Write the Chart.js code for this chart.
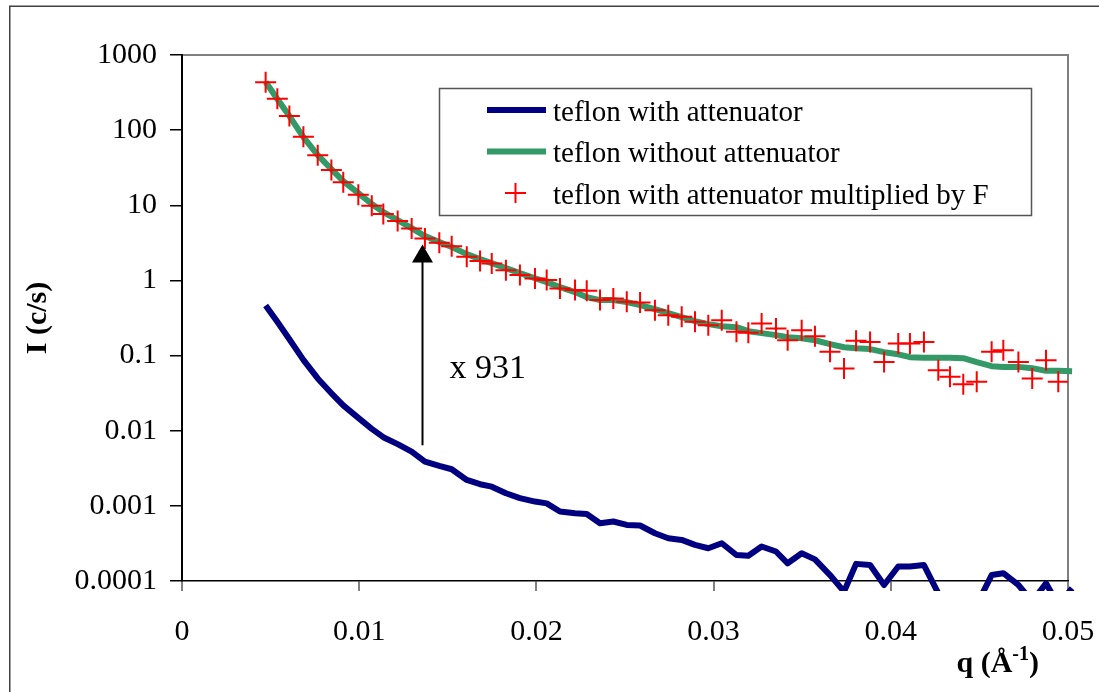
<!DOCTYPE html>
<html>
<head>
<meta charset="utf-8">
<title>Teflon with and without attenuator</title>
<script src="https://cdn.jsdelivr.net/npm/chart.js@4.4.1/dist/chart.umd.min.js"></script>
<style>
  html, body { margin: 0; padding: 0; background: #fff; }
  #chart { display: block; }
</style>
</head>
<body>
<canvas id="chart" width="1099" height="692"></canvas>
<script>
// --- Data ---
const qAtt = [
    0.00472, 0.00538, 0.00606, 0.00685, 0.00766, 0.00843, 0.00910, 0.00995, 0.01071, 0.01136,
    0.01217, 0.01296, 0.01371, 0.01452, 0.01522, 0.01607, 0.01682, 0.01748, 0.01828, 0.01907,
    0.01992, 0.02058, 0.02133, 0.02218, 0.02284, 0.02359, 0.02434, 0.02510, 0.02585, 0.02669,
    0.02744, 0.02820, 0.02895, 0.02970, 0.03046, 0.03129, 0.03196, 0.03271, 0.03352, 0.03418,
    0.03497, 0.03572, 0.03657, 0.03736, 0.03804, 0.03883, 0.03962, 0.04042, 0.04108, 0.04187,
    0.04268, 0.04334, 0.04409, 0.04485, 0.04569, 0.04635, 0.04720, 0.04798, 0.04876, 0.04945,
    0.05023
];
const withAttenuator = [
    0.465, 0.281, 0.165, 0.0878, 0.0496, 0.0316, 0.0217, 0.0148, 0.01058, 0.00820,
    0.00662, 0.00528, 0.00389, 0.00340, 0.00307, 0.00221, 0.00194, 0.00180, 0.00147, 0.00127,
    0.00114, 0.00108, 0.000840, 0.000798, 0.000781, 0.000588, 0.000619, 0.000557, 0.000548, 0.000432,
    0.000371, 0.000352, 0.000302, 0.000273, 0.000318, 0.000222, 0.000217, 0.000288, 0.000247, 0.000172,
    0.000234, 0.000194, 0.000120, 0.0000723, 0.000169, 0.000163, 0.0000885, 0.000156, 0.000156, 0.000163,
    0.0000686, 0.0000560, 0.0000447, 0.0000480, 0.000120, 0.000127, 0.0000885, 0.0000533, 0.0000932, 0.0000480,
    0.0000800
];
const multipliedByF = [
    433, 262, 154, 81.7, 46.2, 29.4, 20.2, 13.8, 9.85, 7.63,
    6.16, 4.92, 3.62, 3.17, 2.86, 2.06, 1.81, 1.68, 1.37, 1.18,
    1.06, 1.01, 0.782, 0.743, 0.727, 0.547, 0.576, 0.519, 0.510, 0.402,
    0.345, 0.328, 0.281, 0.254, 0.296, 0.207, 0.202, 0.268, 0.230, 0.160,
    0.218, 0.181, 0.112, 0.0673, 0.157, 0.152, 0.0824, 0.145, 0.145, 0.152,
    0.0639, 0.0521, 0.0416, 0.0447, 0.112, 0.118, 0.0824, 0.0496, 0.0868, 0.0447
];
const qNoAtt = [
    0.00472, 0.00538, 0.00606, 0.00685, 0.00766, 0.00843, 0.00910, 0.00995, 0.01071, 0.01136,
    0.01217, 0.01296, 0.01371, 0.01452, 0.01522, 0.01607, 0.01682, 0.01748, 0.01828, 0.01907,
    0.01992, 0.02058, 0.02133, 0.02218, 0.02284, 0.02359, 0.02434, 0.02510, 0.02585, 0.02669,
    0.02744, 0.02820, 0.02895, 0.02970, 0.03046, 0.03129, 0.03196, 0.03271, 0.03352, 0.03418,
    0.03497, 0.03572, 0.03657, 0.03736, 0.03804, 0.03883, 0.03962, 0.04042, 0.04108, 0.04187,
    0.04268, 0.04334, 0.04409, 0.04485, 0.04569, 0.04635, 0.04720, 0.04798, 0.04876, 0.04945,
    0.05023, 0.05070
];
const withoutAttenuator = [
    437, 259.5, 154, 80.9, 46.6, 30.3, 21.0, 14.5, 10.4, 8.12,
    6.35, 4.97, 3.89, 3.24, 2.78, 2.24, 1.92, 1.70, 1.46, 1.25,
    1.07, 0.949, 0.814, 0.699, 0.599, 0.547, 0.547, 0.514, 0.469, 0.415,
    0.367, 0.325, 0.287, 0.262, 0.246, 0.239, 0.211, 0.199, 0.187, 0.176,
    0.170, 0.160, 0.142, 0.129, 0.125, 0.122, 0.111, 0.104, 0.0952, 0.0938,
    0.0934, 0.0934, 0.0923, 0.0817, 0.0722, 0.0707, 0.0707, 0.0680, 0.0626, 0.0626,
    0.0620, 0.0596
];

const xTicks = [0, 0.01, 0.02, 0.03, 0.04, 0.05];
const yTicks = [1000, 100, 10, 1, 0.1, 0.01, 0.001, 0.0001];

// annotation: arrow from the attenuated curve up to the scaled one
const F = 931;
const arrowQ = 0.01354;
const arrowFrom = 0.0064;
const arrowTo = 3.0;
const noteQ = 0.0151;
const noteI = 0.05;

const SERIF = '"Liberation Serif", "Times New Roman", serif';

// --- Extra drawing: frame, arrow, legend, axis titles ---
const decorPlugin = {
    id: 'decor',
    beforeDraw(chart) {
        const ctx = chart.ctx;
        const a = chart.chartArea;
        ctx.save();
        ctx.fillStyle = '#fff';
        ctx.fillRect(0, 0, chart.width, chart.height);
        ctx.strokeStyle = '#404040';
        ctx.lineWidth = 1.5;
        ctx.strokeRect(9.75, 6.25, chart.width + 20, chart.height + 20);
        // plot area border (top + right)
        ctx.strokeStyle = '#808080';
        ctx.lineWidth = 2;
        ctx.beginPath();
        ctx.moveTo(a.left, a.top);
        ctx.lineTo(a.right, a.top);
        ctx.lineTo(a.right, a.bottom);
        ctx.stroke();
        ctx.restore();
    },
    afterDraw(chart) {
        const ctx = chart.ctx;
        const a = chart.chartArea;
        const xs = chart.scales.x;
        const ys = chart.scales.y;
        ctx.save();

        // arrow
        const ax = Math.round(xs.getPixelForValue(arrowQ)) + 0.5;
        const y0 = ys.getPixelForValue(arrowFrom);
        const y1 = ys.getPixelForValue(arrowTo);
        ctx.strokeStyle = '#000';
        ctx.fillStyle = '#000';
        ctx.lineWidth = 2;
        ctx.beginPath();
        ctx.moveTo(ax, y0);
        ctx.lineTo(ax, y1 + 16);
        ctx.stroke();
        ctx.beginPath();
        ctx.moveTo(ax, y1);
        ctx.lineTo(ax - 10.5, y1 + 18);
        ctx.lineTo(ax + 10.5, y1 + 18);
        ctx.closePath();
        ctx.fill();

        ctx.font = '34px ' + SERIF;
        ctx.textAlign = 'left';
        ctx.textBaseline = 'alphabetic';
        ctx.fillText('x ' + F, xs.getPixelForValue(noteQ), ys.getPixelForValue(noteI));

        // legend
        const lx = a.left + 257, ly = a.top + 33, lw = 592, lh = 127;
        ctx.fillStyle = '#fff';
        ctx.fillRect(lx, ly, lw, lh);
        ctx.strokeStyle = '#555';
        ctx.lineWidth = 1.5;
        ctx.strokeRect(lx + 0.5, ly + 0.5, lw, lh);
        ctx.font = '29px ' + SERIF;
        chart.data.datasets.forEach((ds, i) => {
            const ry = ly + 22 + i * 41.5;
            if (ds.showLine === false) {
                ctx.strokeStyle = ds.pointBorderColor;
                ctx.lineWidth = 2;
                ctx.beginPath();
                ctx.moveTo(lx + 66, ry);
                ctx.lineTo(lx + 87, ry);
                ctx.moveTo(lx + 76.5, ry - 10);
                ctx.lineTo(lx + 76.5, ry + 10);
                ctx.stroke();
            } else {
                ctx.strokeStyle = ds.borderColor;
                ctx.lineWidth = ds.borderWidth;
                ctx.beginPath();
                ctx.moveTo(lx + 48, ry);
                ctx.lineTo(lx + 107, ry);
                ctx.stroke();
            }
            ctx.fillStyle = '#000';
            ctx.textAlign = 'left';
            ctx.textBaseline = 'alphabetic';
            ctx.fillText(ds.label, lx + 114, ry + 10.5);
        });

        // y axis title
        ctx.save();
        ctx.translate(38, (a.top + a.bottom) / 2);
        ctx.rotate(-Math.PI / 2);
        ctx.font = 'bold 30px ' + SERIF;
        ctx.textAlign = 'center';
        ctx.textBaseline = 'middle';
        ctx.fillText('I (c/s)', 0, 0);
        ctx.restore();

        // x axis title with superscript
        const base = chart.height - 20;
        ctx.font = 'bold 30px ' + SERIF;
        const p1 = 'q (\u00C5', p3 = ')';
        const w1 = ctx.measureText(p1).width;
        const w3 = ctx.measureText(p3).width;
        ctx.font = 'bold 20px ' + SERIF;
        const w2 = ctx.measureText('-1').width;
        let tx = a.right - 29 - (w1 + w2 + w3);
        ctx.textAlign = 'left';
        ctx.fillStyle = '#000';
        ctx.font = 'bold 30px ' + SERIF;
        ctx.fillText(p1, tx, base);
        ctx.font = 'bold 20px ' + SERIF;
        ctx.fillText('-1', tx + w1, base - 12);
        ctx.font = 'bold 30px ' + SERIF;
        ctx.fillText(p3, tx + w1 + w2, base);

        ctx.restore();
    }
};

const lineClip = { left: 0, top: 0, right: 14, bottom: 10 };

const chart = new Chart(document.getElementById('chart'), {
    type: 'line',
    data: {
        datasets: [
            {
                label: 'teflon with attenuator',
                data: qAtt.map((q, i) => ({ x: q, y: withAttenuator[i] })),
                borderColor: '#000080',
                borderWidth: 6,
                pointRadius: 0,
                tension: 0,
                borderJoinStyle: 'round',
                clip: lineClip,
                order: 2
            },
            {
                label: 'teflon without attenuator',
                data: qNoAtt.map((q, i) => ({ x: q, y: withoutAttenuator[i] })),
                borderColor: '#339966',
                borderWidth: 6,
                pointRadius: 0,
                tension: 0,
                borderJoinStyle: 'round',
                clip: lineClip,
                order: 1
            },
            {
                label: 'teflon with attenuator multiplied by F',
                data: multipliedByF.map((v, i) => ({ x: qAtt[i], y: v })),
                showLine: false,
                pointStyle: 'cross',
                pointRadius: 10.5,
                pointBorderWidth: 2,
                pointBorderColor: '#ff0000',
                borderColor: '#ff0000',
                order: 0
            }
        ]
    },
    options: {
        responsive: false,
        animation: false,
        devicePixelRatio: 1,
        layout: { padding: { left: 10, top: 55, right: 31, bottom: 0 } },
        plugins: {
            legend: { display: false },
            tooltip: { enabled: false }
        },
        scales: {
            x: {
                type: 'linear',
                min: 0,
                max: 0.05,
                afterBuildTicks: s => { s.ticks = xTicks.map(v => ({ value: v })); },
                afterFit: s => { s.height = 111; s.paddingLeft = 0; s.paddingRight = 0; },
                grid: { drawOnChartArea: false, tickLength: 10, color: '#808080', lineWidth: 2 },
                border: { color: '#000', width: 1.5 },
                ticks: {
                    color: '#000',
                    font: { family: SERIF, size: 30 },
                    padding: 23,
                    maxRotation: 0,
                    autoSkip: false,
                    callback: v => String(v)
                }
            },
            y: {
                type: 'logarithmic',
                min: 0.0001,
                max: 1000,
                afterBuildTicks: s => { s.ticks = yTicks.map(v => ({ value: v })); },
                afterFit: s => { s.width = 172; s.paddingTop = 0; s.paddingBottom = 0; },
                grid: { drawOnChartArea: false, tickLength: 12, color: '#000', lineWidth: 1.5 },
                border: { color: '#000', width: 2 },
                ticks: {
                    color: '#000',
                    font: { family: SERIF, size: 30 },
                    padding: 13,
                    autoSkip: false,
                    callback: v => String(v)
                }
            }
        }
    },
    plugins: [decorPlugin]
});
</script>
</body>
</html>
